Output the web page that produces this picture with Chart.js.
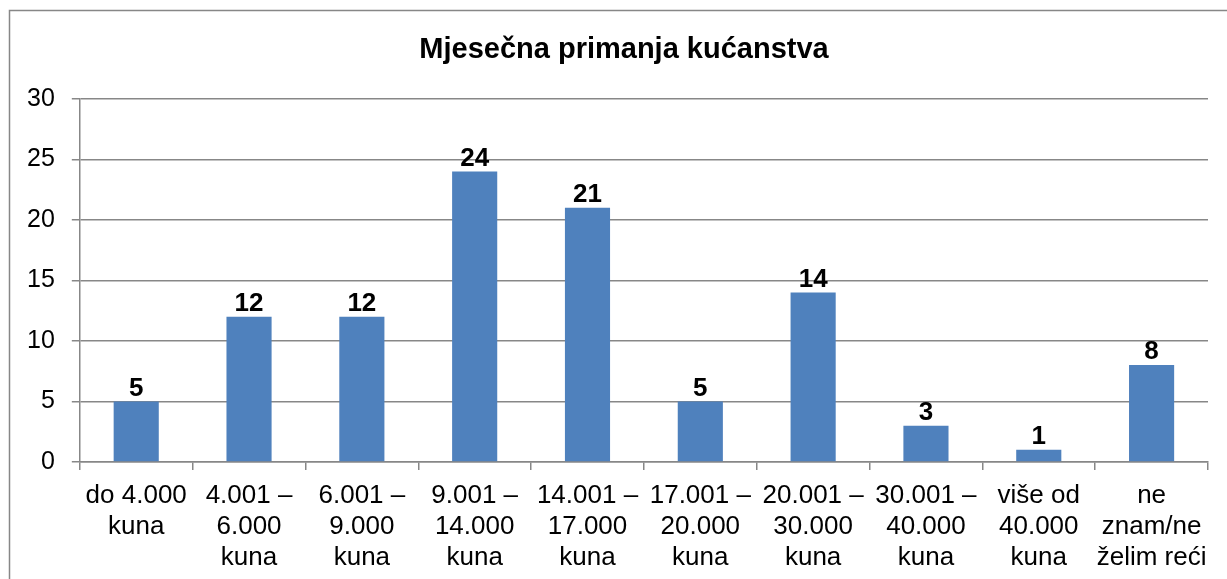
<!DOCTYPE html>
<html>
<head>
<meta charset="utf-8">
<script src="https://cdn.jsdelivr.net/npm/chart.js@4.4.0/dist/chart.umd.min.js"></script>
<style>
  html, body { margin: 0; padding: 0; background: #fff; overflow: hidden; }
  #wrap { position: relative; width: 1227px; height: 579px; overflow: hidden; }
</style>
</head>
<body>
<div id="wrap"><canvas id="grafica" width="1227" height="584"></canvas></div>
<script>
const kategorije = [
    ['do 4.000', 'kuna'],
    ['4.001 –', '6.000', 'kuna'],
    ['6.001 –', '9.000', 'kuna'],
    ['9.001 –', '14.000', 'kuna'],
    ['14.001 –', '17.000', 'kuna'],
    ['17.001 –', '20.000', 'kuna'],
    ['20.001 –', '30.000', 'kuna'],
    ['30.001 –', '40.000', 'kuna'],
    ['više od', '40.000', 'kuna'],
    ['ne', 'znam/ne', 'želim reći']
];
const vrijednosti = [5, 12, 12, 24, 21, 5, 14, 3, 1, 8];
const naslov = 'Mjesečna primanja kućanstva';
const yMin = 0;
const yMax = 30;
const yKorak = 5;

const sivo = '#878787';
const plavo = '#4F81BD';
const fontNaslova = 'bold 29px "Liberation Sans", Arial, sans-serif';

// okvir oko cijelog grafikona
const okvir = {
    id: 'okvir',
    beforeDraw(chart) {
        const c = chart.ctx;
        c.save();
        c.fillStyle = '#fff';
        c.fillRect(0, 0, chart.width, chart.height);
        c.strokeStyle = sivo;
        c.lineWidth = 1.5;
        c.strokeRect(9.5, 10.5, chart.width + 20, chart.height + 20);
        c.restore();
    }
};

// naslov centriran na okvir (Chart.js naslov samo drži mjesto)
const naslovOkvira = {
    id: 'naslovOkvira',
    afterDraw(chart) {
        const c = chart.ctx;
        const tb = chart.titleBlock;
        c.save();
        c.font = fontNaslova;
        c.fillStyle = '#000';
        c.textAlign = 'center';
        c.textBaseline = 'middle';
        c.fillText(naslov, chart.width / 2 + 10.5, tb.top + 23 + 29 * 1.2 / 2);
        c.restore();
    }
};

// brojke iznad stupaca
const oznake = {
    id: 'oznake',
    afterDatasetsDraw(chart) {
        const c = chart.ctx;
        const meta = chart.getDatasetMeta(0);
        c.save();
        c.font = 'bold 26px "Liberation Sans", Arial, sans-serif';
        c.fillStyle = '#000';
        c.textAlign = 'center';
        c.textBaseline = 'bottom';
        meta.data.forEach((bar, i) => {
            c.fillText(vrijednosti[i], bar.x, bar.y);
        });
        c.restore();
    }
};

const ctx = document.getElementById('grafica').getContext('2d');
const grafica = new Chart(ctx, {
    type: 'bar',
    data: {
        labels: kategorije,
        datasets: [{
            data: vrijednosti,
            backgroundColor: plavo,
            borderWidth: 0,
            barPercentage: 0.4,
            categoryPercentage: 1
        }]
    },
    options: {
        responsive: false,
        animation: false,
        layout: { padding: { top: 10, left: 10, right: 19, bottom: 0 } },
        plugins: {
            legend: { display: false },
            tooltip: { enabled: false },
            title: {
                display: true,
                text: naslov,
                color: 'rgba(0,0,0,0)',
                font: { family: '"Liberation Sans", Arial, sans-serif', size: 29, weight: 'bold', lineHeight: 1.2 },
                padding: { top: 23, bottom: 31 }
            }
        },
        scales: {
            x: {
                grid: { drawOnChartArea: false, color: sivo, lineWidth: 1.5, tickLength: 8, offset: true },
                border: { color: sivo, width: 1.5 },
                ticks: {
                    color: '#000',
                    autoSkip: false,
                    maxRotation: 0,
                    padding: 11,
                    font: { family: '"Liberation Sans", Arial, sans-serif', size: 26, lineHeight: 1.18 }
                }
            },
            y: {
                min: yMin,
                max: yMax,
                grid: { color: sivo, lineWidth: 1.5, tickLength: 8 },
                border: { color: sivo, width: 1.5 },
                ticks: {
                    stepSize: yKorak,
                    color: '#000',
                    padding: 17,
                    font: { family: '"Liberation Sans", Arial, sans-serif', size: 25 }
                }
            }
        }
    },
    plugins: [okvir, naslovOkvira, oznake]
});
</script>
</body>
</html>
